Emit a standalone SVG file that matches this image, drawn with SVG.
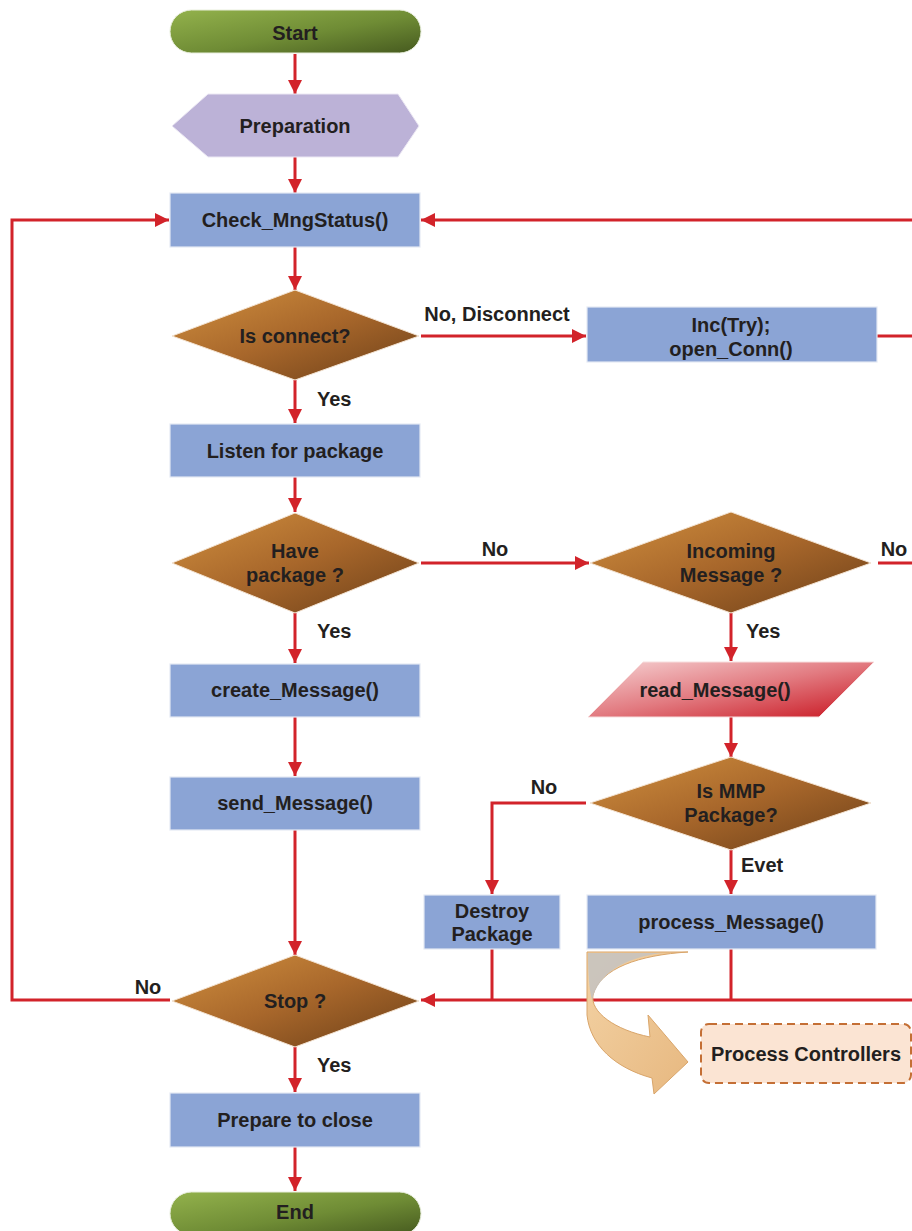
<svg xmlns="http://www.w3.org/2000/svg" width="912" height="1231" viewBox="0 0 912 1231">
  <defs>
    <linearGradient id="gTerm" x1="0" y1="0" x2="1" y2="1">
      <stop offset="0" stop-color="#93b24c"/>
      <stop offset="0.55" stop-color="#6f8c35"/>
      <stop offset="1" stop-color="#465a1f"/>
    </linearGradient>
    <linearGradient id="gDec" x1="0" y1="0" x2="1" y2="1">
      <stop offset="0" stop-color="#d1903f"/>
      <stop offset="0.5" stop-color="#a8672b"/>
      <stop offset="1" stop-color="#6c3f18"/>
    </linearGradient>
    <linearGradient id="gIO" x1="0" y1="0" x2="1" y2="1">
      <stop offset="0" stop-color="#f6d3d4"/>
      <stop offset="0.5" stop-color="#e27a80"/>
      <stop offset="1" stop-color="#c8141f"/>
    </linearGradient>
    <linearGradient id="gCurve" x1="0" y1="0" x2="1" y2="1">
      <stop offset="0" stop-color="#f3d2a4"/>
      <stop offset="1" stop-color="#e7b880"/>
    </linearGradient>
    <marker id="arr" viewBox="0 0 10 10" refX="10" refY="5" markerWidth="14" markerHeight="14" markerUnits="userSpaceOnUse" orient="auto">
      <path d="M0,0 L10,5 L0,10 Z" fill="#d2232a"/>
    </marker>
  </defs>
  <style>
    .t { font-family: "Liberation Sans", Arial, sans-serif; font-weight: bold; font-size: 20px; fill: #231f20; text-anchor: middle; }
    .l { font-family: "Liberation Sans", Arial, sans-serif; font-weight: bold; font-size: 20px; fill: #231f20; }
    .box { fill: #8ba4d5; stroke: #e4e9f4; stroke-width: 1.2; }
    .dec { fill: url(#gDec); stroke: #f3e3d2; stroke-width: 1; }
    .term { fill: url(#gTerm); stroke: #e8eedc; stroke-width: 1; }
    .cn { fill: none; stroke: #d2232a; stroke-width: 3; }
    .ca { fill: none; stroke: #d2232a; stroke-width: 3; marker-end: url(#arr); }
  </style>

  <rect width="912" height="1231" fill="#ffffff"/>

  <!-- connectors -->
  <g id="connectors">
    <line class="ca" x1="295" y1="54" x2="295" y2="94"/>
    <line class="ca" x1="295" y1="157" x2="295" y2="193"/>
    <line class="ca" x1="295" y1="247" x2="295" y2="290"/>
    <line class="ca" x1="421" y1="336" x2="586" y2="336"/>
    <line class="cn" x1="877" y1="336" x2="912" y2="336"/>
    <line class="ca" x1="912" y1="220" x2="421" y2="220"/>
    <line class="ca" x1="295" y1="380" x2="295" y2="423"/>
    <line class="ca" x1="295" y1="477" x2="295" y2="512"/>
    <line class="ca" x1="421" y1="563" x2="589" y2="563"/>
    <line class="cn" x1="878" y1="563" x2="912" y2="563"/>
    <line class="ca" x1="295" y1="613" x2="295" y2="663"/>
    <line class="ca" x1="731" y1="613" x2="731" y2="661"/>
    <line class="ca" x1="295" y1="717" x2="295" y2="776"/>
    <line class="ca" x1="731" y1="717" x2="731" y2="757"/>
    <polyline class="ca" points="586,803 492,803 492,894"/>
    <line class="ca" x1="731" y1="850" x2="731" y2="894"/>
    <line class="ca" x1="295" y1="830" x2="295" y2="955"/>
    <line class="cn" x1="492" y1="949" x2="492" y2="1000"/>
    <line class="cn" x1="731" y1="949" x2="731" y2="1000"/>
    <line class="ca" x1="912" y1="1000" x2="421" y2="1000"/>
    <polyline class="ca" points="170,1000 12,1000 12,220 169,220"/>
    <line class="ca" x1="295" y1="1047" x2="295" y2="1092"/>
    <line class="ca" x1="295" y1="1147" x2="295" y2="1191"/>

    <text class="t" x="497" y="321">No, Disconnect</text>
    <text class="l" x="317" y="406">Yes</text>
    <text class="t" x="495" y="556">No</text>
    <text class="t" x="894" y="556">No</text>
    <text class="l" x="317" y="638">Yes</text>
    <text class="l" x="746" y="638">Yes</text>
    <text class="t" x="544" y="794">No</text>
    <text class="l" x="741" y="872">Evet</text>
    <text class="t" x="148" y="994">No</text>
    <text class="l" x="317" y="1072">Yes</text>
  </g>

  <g id="start">
    <rect class="term" x="170" y="10" width="251" height="43" rx="21.5"/>
    <text class="t" x="295" y="40">Start</text>
  </g>

  <g id="preparation">
    <polygon points="172,126 208,94 398,94 419,126 398,157 208,157" fill="#bcb2d7" stroke="#ece8f4" stroke-width="1"/>
    <text class="t" x="295" y="133">Preparation</text>
  </g>

  <g id="check-mngstatus">
    <rect class="box" x="170" y="193" width="250" height="54"/>
    <text class="t" x="295" y="227">Check_MngStatus()</text>
  </g>

  <g id="is-connect">
    <polygon class="dec" points="295,290 419,336 295,380 172,336"/>
    <text class="t" x="295" y="343">Is connect?</text>
  </g>

  <g id="inc-try">
    <rect class="box" x="587" y="307" width="290" height="55"/>
    <text class="t" x="731" y="332">Inc(Try);</text>
    <text class="t" x="731" y="356">open_Conn()</text>
  </g>

  <g id="listen">
    <rect class="box" x="170" y="424" width="250" height="53"/>
    <text class="t" x="295" y="458">Listen for package</text>
  </g>

  <g id="have-package">
    <polygon class="dec" points="295,513 419,563 295,613 172,563"/>
    <text class="t" x="295" y="558">Have</text>
    <text class="t" x="295" y="582">package ?</text>
  </g>

  <g id="incoming-message">
    <polygon class="dec" points="731,512 871,563 731,613 590,563"/>
    <text class="t" x="731" y="558">Incoming</text>
    <text class="t" x="731" y="582">Message ?</text>
  </g>

  <g id="create-message">
    <rect class="box" x="170" y="664" width="250" height="53"/>
    <text class="t" x="295" y="697">create_Message()</text>
  </g>

  <g id="read-message">
    <polygon points="643,662 874,662 819,717 588,717" fill="url(#gIO)" stroke="#f7dede" stroke-width="1"/>
    <text class="t" x="715" y="697">read_Message()</text>
  </g>

  <g id="send-message">
    <rect class="box" x="170" y="777" width="250" height="53"/>
    <text class="t" x="295" y="810">send_Message()</text>
  </g>

  <g id="is-mmp">
    <polygon class="dec" points="731,757 871,803 731,850 590,803"/>
    <text class="t" x="731" y="798">Is MMP</text>
    <text class="t" x="731" y="822">Package?</text>
  </g>

  <g id="destroy-package">
    <rect class="box" x="424" y="895" width="136" height="54"/>
    <text class="t" x="492" y="918">Destroy</text>
    <text class="t" x="492" y="941">Package</text>
  </g>

  <g id="process-message">
    <rect class="box" x="587" y="895" width="289" height="54"/>
    <text class="t" x="731" y="929">process_Message()</text>
  </g>

  <g id="stop">
    <polygon class="dec" points="295,955 419,1001 295,1047 172,1001"/>
    <text class="t" x="295" y="1008">Stop ?</text>
  </g>

  <g id="prepare-close">
    <rect class="box" x="170" y="1093" width="250" height="54"/>
    <text class="t" x="295" y="1127">Prepare to close</text>
  </g>

  <g id="end">
    <rect class="term" x="170" y="1192" width="251" height="43" rx="21.5"/>
    <text class="t" x="295" y="1219">End</text>
  </g>

  <!-- curved callout arrow towards the controllers box -->
  <g id="process-arrow">
    <path d="M587,952 L688,952 C640,955 600,968 593,995 C590,1012 615,1030 650,1037 L648,1015 L688,1062 L654,1094 L652,1078 C615,1068 590,1045 587,1015 Z" fill="url(#gCurve)" stroke="#d9a56a" stroke-width="1"/>
    <path d="M588,953 L662,953 C622,958 598,975 592,1000 C589,990 588,970 588,953 Z" fill="#c6c3bf" opacity="0.9"/>
  </g>

  <g id="process-controllers">
    <rect x="701" y="1024" width="210" height="59" rx="8" fill="#fbe4d3" stroke="#c46f35" stroke-width="2" stroke-dasharray="8,5"/>
    <text class="t" x="806" y="1061">Process Controllers</text>
  </g>
</svg>
